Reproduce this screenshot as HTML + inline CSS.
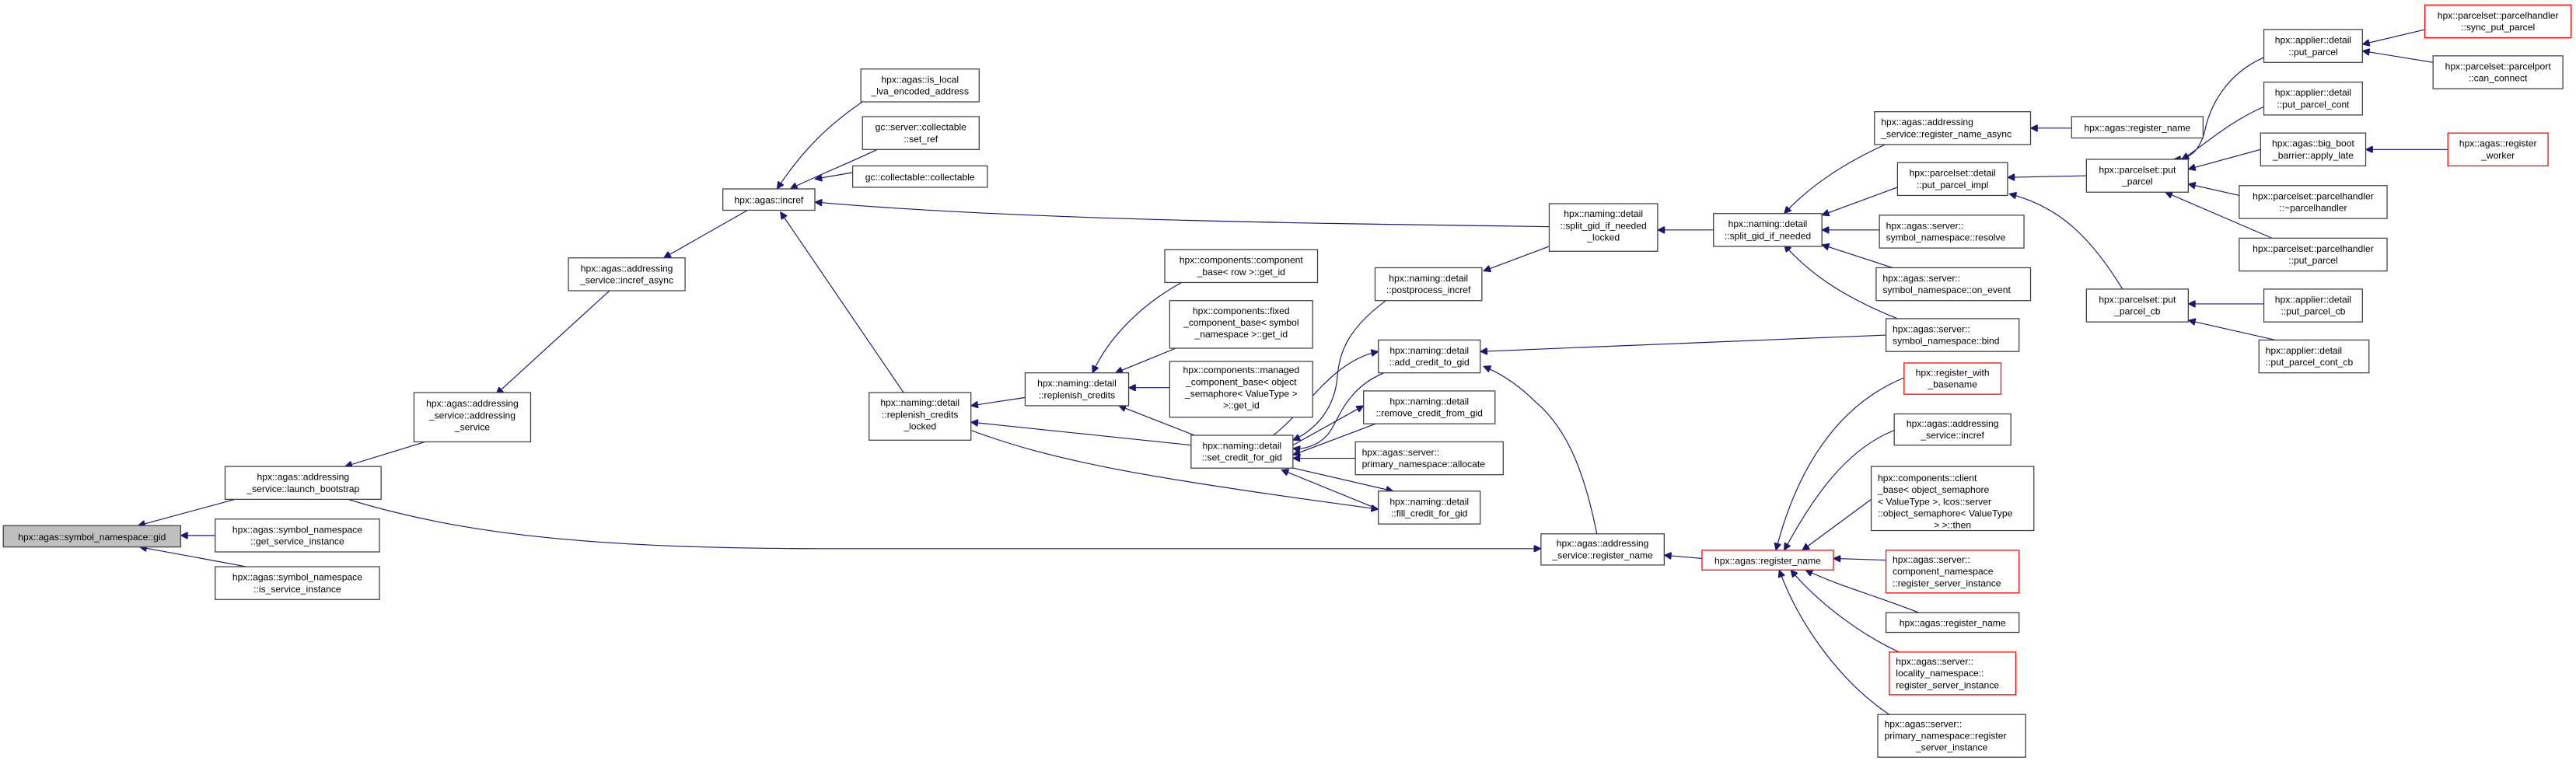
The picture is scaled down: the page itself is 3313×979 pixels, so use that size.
<!DOCTYPE html>
<html><head><meta charset="utf-8"><style>
html,body{margin:0;padding:0;background:#fff;}
svg{display:block}
text{font-family:"Liberation Sans",Arial,sans-serif;font-size:5.75px;text-anchor:middle;fill:#000}
text.l{text-anchor:start}
rect{fill:#fff;stroke:#404040;stroke-width:0.6}
rect.r{stroke:#ff0000}
rect.g{fill:#bfbfbf}
path{fill:none;stroke:#191970;stroke-width:0.55}
</style></head><body>
<svg width="3313" height="979" viewBox="0 0 1568 463.3" preserveAspectRatio="none" xmlns="http://www.w3.org/2000/svg">
<defs><marker id="a" viewBox="0 0 10 10" refX="10" refY="5" markerWidth="5.5" markerHeight="4.2" markerUnits="userSpaceOnUse" orient="auto"><path d="M0,0L10,5L0,10z" style="fill:#191970;stroke:#191970;stroke-width:1"/></marker></defs>
<g marker-end="url(#a)">
<path d="M143,304L84,320"/>
<path d="M131,326L110,326"/>
<path d="M150,345L85,333"/>
<path d="M262,268L210,284"/>
<path d="M371,177L302,240"/>
<path d="M455,128L404,157"/>
<path d="M528,60C505,75 488,92 473,115"/>
<path d="M534,91C515,100 495,108 481,115"/>
<path d="M519,105L496,109"/>
<path d="M943,138C800,136 620,134 496,123"/>
<path d="M550,239L475,129"/>
<path d="M624,242L591,247"/>
<path d="M725,271L591,257"/>
<path d="M591,262C640,280 690,290 839,310"/>
<path d="M721,171C695,185 675,205 665,227"/>
<path d="M723,209L679,227"/>
<path d="M712,236L687,236"/>
<path d="M727,265L681,247"/>
<path d="M845,182C820,200 815,215 814,230C812,250 800,262 787,268"/>
<path d="M845,226C820,235 815,255 810,262C805,270 795,274 787,273"/>
<path d="M775,265C795,250 810,220 839,214"/>
<path d="M840,257L787,277"/>
<path d="M787,271L830,247"/>
<path d="M825,279L787,279"/>
<path d="M783,284L848,299"/>
<path d="M839,310L780,286"/>
<path d="M1148,204L901,214"/>
<path d="M972,325C965,290 955,262 935,245C925,235 915,228 903,223"/>
<path d="M1043,140L1009,140"/>
<path d="M943,150L903,165"/>
<path d="M1152,86C1120,100 1100,115 1086,130"/>
<path d="M1155,114L1109,131"/>
<path d="M1144,140L1109,140"/>
<path d="M1152,163L1109,149"/>
<path d="M1155,194C1120,180 1100,165 1086,149"/>
<path d="M1261,78L1236,78"/>
<path d="M1270,107L1222,108"/>
<path d="M1292,176C1270,140 1250,125 1223,118"/>
<path d="M1378,35C1355,45 1345,65 1342,80C1338,95 1330,97 1323,97"/>
<path d="M1378,65C1355,75 1340,90 1328,97"/>
<path d="M1376,91L1332,103"/>
<path d="M1363,119L1332,112"/>
<path d="M1383,145L1318,117"/>
<path d="M1476,18L1438,27"/>
<path d="M1481,38L1438,31"/>
<path d="M1490,91L1440,91"/>
<path d="M1378,185L1332,185"/>
<path d="M1385,207L1332,195"/>
<path d="M212,304C280,325 360,334 500,334L938,334"/>
<path d="M1036,340L1013,338"/>
<path d="M1159,230C1110,250 1090,300 1081,335"/>
<path d="M1153,262C1120,275 1100,310 1086,335"/>
<path d="M1139,304L1097,335"/>
<path d="M1148,341L1116,340"/>
<path d="M1168,373C1140,362 1120,357 1099,347"/>
<path d="M1156,397C1130,385 1105,365 1090,347"/>
<path d="M1150,435C1120,415 1095,380 1083,347"/>
</g>

<rect class="g" x="2" y="320" width="108" height="13"/><text x="56" y="328.8">hpx::agas::symbol_namespace::gid</text>
<rect x="137" y="284" width="95" height="20"/><text x="184.5" y="292.3">hpx::agas::addressing</text><text x="184.5" y="299.5">_service::launch_bootstrap</text>
<rect x="131" y="316" width="100" height="20"/><text x="181" y="324.3">hpx::agas::symbol_namespace</text><text x="181" y="331.5">::get_service_instance</text>
<rect x="131" y="345" width="100" height="20"/><text x="181" y="353.3">hpx::agas::symbol_namespace</text><text x="181" y="360.5">::is_service_instance</text>
<rect x="252" y="239" width="71" height="30"/><text x="287.5" y="247.6">hpx::agas::addressing</text><text x="287.5" y="254.8">_service::addressing</text><text x="287.5" y="262">_service</text>
<rect x="346" y="157" width="71" height="20"/><text x="381.5" y="165.3">hpx::agas::addressing</text><text x="381.5" y="172.5">_service::incref_async</text>
<rect x="440" y="115" width="56" height="13"/><text x="468" y="123.8">hpx::agas::incref</text>
<rect x="524" y="42" width="72" height="20"/><text x="560" y="50.3">hpx::agas::is_local</text><text x="560" y="57.5">_lva_encoded_address</text>
<rect x="525" y="71" width="71" height="20"/><text x="560.5" y="79.3">gc::server::collectable</text><text x="560.5" y="86.5">::set_ref</text>
<rect x="519" y="101" width="82" height="13"/><text x="560" y="109.8">gc::collectable::collectable</text>
<rect x="529" y="239" width="62" height="29"/><text x="560" y="247.1">hpx::naming::detail</text><text x="560" y="254.3">::replenish_credits</text><text x="560" y="261.5">_locked</text>
<rect x="624" y="227" width="63" height="20"/><text x="655.5" y="235.3">hpx::naming::detail</text><text x="655.5" y="242.5">::replenish_credits</text>
<rect x="709" y="152" width="93" height="20"/><text x="755.5" y="160.3">hpx::components::component</text><text x="755.5" y="167.5">_base&lt; row &gt;::get_id</text>
<rect x="712" y="183" width="87" height="29"/><text x="755.5" y="191.1">hpx::components::fixed</text><text x="755.5" y="198.3">_component_base&lt; symbol</text><text x="755.5" y="205.5">_namespace &gt;::get_id</text>
<rect x="712" y="220" width="87" height="34"/><text x="755.5" y="227.2">hpx::components::managed</text><text x="755.5" y="234.4">_component_base&lt; object</text><text x="755.5" y="241.6">_semaphore&lt; ValueType &gt;</text><text x="755.5" y="248.8">&gt;::get_id</text>
<rect x="725" y="265" width="62" height="20"/><text x="756" y="273.3">hpx::naming::detail</text><text x="756" y="280.5">::set_credit_for_gid</text>
<rect x="837" y="163" width="65" height="20"/><text x="869.5" y="171.3">hpx::naming::detail</text><text x="869.5" y="178.5">::postprocess_incref</text>
<rect x="839" y="207" width="62" height="20"/><text x="870" y="215.3">hpx::naming::detail</text><text x="870" y="222.5">::add_credit_to_gid</text>
<rect x="830" y="238" width="80" height="20"/><text x="870" y="246.3">hpx::naming::detail</text><text x="870" y="253.5">::remove_credit_from_gid</text>
<rect x="825" y="269" width="90" height="20"/><text class="l" x="829" y="277.3">hpx::agas::server::</text><text class="l" x="829" y="284.5">primary_namespace::allocate</text>
<rect x="839" y="299" width="62" height="20"/><text x="870" y="307.3">hpx::naming::detail</text><text x="870" y="314.5">::fill_credit_for_gid</text>
<rect x="943" y="124" width="66" height="29"/><text x="976" y="132.1">hpx::naming::detail</text><text x="976" y="139.3">::split_gid_if_needed</text><text x="976" y="146.5">_locked</text>
<rect x="1043" y="130" width="66" height="20"/><text x="1076" y="138.3">hpx::naming::detail</text><text x="1076" y="145.5">::split_gid_if_needed</text>
<rect x="1141" y="68" width="95" height="20"/><text class="l" x="1145" y="76.3">hpx::agas::addressing</text><text class="l" x="1145" y="83.5">_service::register_name_async</text>
<rect x="1155" y="99" width="67" height="20"/><text x="1188.5" y="107.3">hpx::parcelset::detail</text><text x="1188.5" y="114.5">::put_parcel_impl</text>
<rect x="1144" y="131" width="88" height="20"/><text class="l" x="1148" y="139.3">hpx::agas::server::</text><text class="l" x="1148" y="146.5">symbol_namespace::resolve</text>
<rect x="1142" y="163" width="94" height="20"/><text class="l" x="1146" y="171.3">hpx::agas::server::</text><text class="l" x="1146" y="178.5">symbol_namespace::on_event</text>
<rect x="1148" y="194" width="81" height="20"/><text class="l" x="1152" y="202.3">hpx::agas::server::</text><text class="l" x="1152" y="209.5">symbol_namespace::bind</text>
<rect x="1261" y="71" width="80" height="13"/><text x="1301" y="79.8">hpx::agas::register_name</text>
<rect x="1270" y="97" width="62" height="20"/><text x="1301" y="105.3">hpx::parcelset::put</text><text x="1301" y="112.5">_parcel</text>
<rect x="1270" y="176" width="62" height="20"/><text x="1301" y="184.3">hpx::parcelset::put</text><text x="1301" y="191.5">_parcel_cb</text>
<rect x="1378" y="18" width="60" height="20"/><text x="1408" y="26.3">hpx::applier::detail</text><text x="1408" y="33.5">::put_parcel</text>
<rect x="1378" y="50" width="60" height="20"/><text x="1408" y="58.3">hpx::applier::detail</text><text x="1408" y="65.5">::put_parcel_cont</text>
<rect x="1376" y="81" width="64" height="20"/><text x="1408" y="89.3">hpx::agas::big_boot</text><text x="1408" y="96.5">_barrier::apply_late</text>
<rect x="1363" y="113" width="90" height="20"/><text x="1408" y="121.3">hpx::parcelset::parcelhandler</text><text x="1408" y="128.5">::~parcelhandler</text>
<rect x="1363" y="145" width="90" height="20"/><text x="1408" y="153.3">hpx::parcelset::parcelhandler</text><text x="1408" y="160.5">::put_parcel</text>
<rect x="1378" y="176" width="60" height="20"/><text x="1408" y="184.3">hpx::applier::detail</text><text x="1408" y="191.5">::put_parcel_cb</text>
<rect x="1375" y="207" width="67" height="20"/><text class="l" x="1379" y="215.3">hpx::applier::detail</text><text class="l" x="1379" y="222.5">::put_parcel_cont_cb</text>
<rect class="r" x="1476" y="3" width="89" height="20"/><text x="1520.5" y="11.3">hpx::parcelset::parcelhandler</text><text x="1520.5" y="18.5">::sync_put_parcel</text>
<rect x="1481" y="34" width="79" height="20"/><text x="1520.5" y="42.3">hpx::parcelset::parcelport</text><text x="1520.5" y="49.5">::can_connect</text>
<rect class="r" x="1490" y="81" width="61" height="20"/><text x="1520.5" y="89.3">hpx::agas::register</text><text x="1520.5" y="96.5">_worker</text>
<rect x="938" y="325" width="75" height="19"/><text x="975.5" y="332.8">hpx::agas::addressing</text><text x="975.5" y="340">_service::register_name</text>
<rect class="r" x="1036" y="335" width="80" height="12"/><text x="1076" y="343.3">hpx::agas::register_name</text>
<rect class="r" x="1159" y="221" width="59" height="19"/><text x="1188.5" y="228.8">hpx::register_with</text><text x="1188.5" y="236">_basename</text>
<rect x="1153" y="252" width="71" height="19"/><text x="1188.5" y="259.8">hpx::agas::addressing</text><text x="1188.5" y="267">_service::incref</text>
<rect x="1139" y="284" width="99" height="39"/><text class="l" x="1143" y="292.9">hpx::components::client</text><text class="l" x="1143" y="300.1">_base&lt; object_semaphore</text><text class="l" x="1143" y="307.3">&lt; ValueType &gt;, lcos::server</text><text class="l" x="1143" y="314.5">::object_semaphore&lt; ValueType</text><text x="1188.5" y="321.5">&gt; &gt;::then</text>
<rect class="r" x="1148" y="335" width="81" height="26"/><text class="l" x="1152" y="342.6">hpx::agas::server::</text><text class="l" x="1152" y="349.8">component_namespace</text><text class="l" x="1152" y="357">::register_server_instance</text>
<rect x="1148" y="373" width="81" height="12"/><text x="1188.5" y="381.3">hpx::agas::register_name</text>
<rect class="r" x="1150" y="397" width="77" height="26"/><text class="l" x="1154" y="404.6">hpx::agas::server::</text><text class="l" x="1154" y="411.8">locality_namespace::</text><text class="l" x="1154" y="419">register_server_instance</text>
<rect x="1143" y="435" width="90" height="26"/><text class="l" x="1147" y="442.6">hpx::agas::server::</text><text class="l" x="1147" y="449.8">primary_namespace::register</text><text x="1188" y="457">_server_instance</text>
</svg>
</body></html>
